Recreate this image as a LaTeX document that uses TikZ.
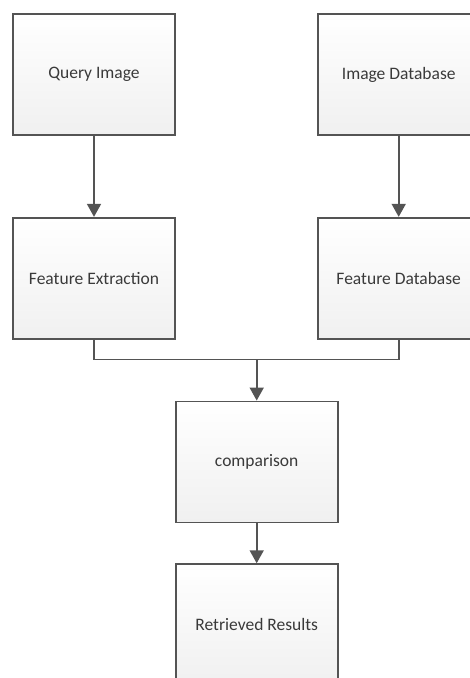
\documentclass[tikz,border=0pt]{standalone}
\usepackage{fontspec}
\setmainfont{Carlito}
\usepackage{xcolor}
\usetikzlibrary{positioning,arrows.meta}
\definecolor{boxline}{HTML}{545454}
\definecolor{boxtext}{HTML}{3A3A3A}
\definecolor{boxshade}{HTML}{F0F0F0}

\begin{document}
\begin{tikzpicture}[x=1pt, y=-1pt, auto]
    % Define styles
    \tikzstyle{stage} = [rectangle, draw=boxline, line width=1.7pt, top color=white, bottom color=boxshade, text=boxtext, minimum width=162pt, minimum height=121pt, font=\fontsize{17.5}{20}\selectfont, inner sep=0pt]
    \tikzstyle{link} = [draw=boxline, line width=1.7pt]
    \tikzstyle{arrow} = [link, -{Triangle[width=14pt, length=13pt]}]

    \useasboundingbox (0,0) rectangle (469,678);

    % Inputs
    \node [stage] (query) at (94,74.5) {Query Image};
    \node [stage, right=141pt of query] (imagedb) {Image Database};

    % Features
    \node [stage, below=81pt of query] (extract) {Feature Extraction};
    \node [stage, below=81pt of imagedb] (featuredb) {Feature Database};

    % Matching and output
    \node [stage, below right=61pt and -1pt of extract.south east] (compare) {comparison};
    \node [stage, below=40pt of compare] (results) {Retrieved Results};
    \coordinate [above=41pt of compare.north] (join);

    % Arrows
    \draw [arrow] (query) -- (extract);
    \draw [arrow] (imagedb) -- (featuredb);
    \draw [link] (extract.south) |- (join) -| (featuredb.south);
    \draw [arrow] (join) -- (compare);
    \draw [arrow] (compare) -- (results);
\end{tikzpicture}
\end{document}
